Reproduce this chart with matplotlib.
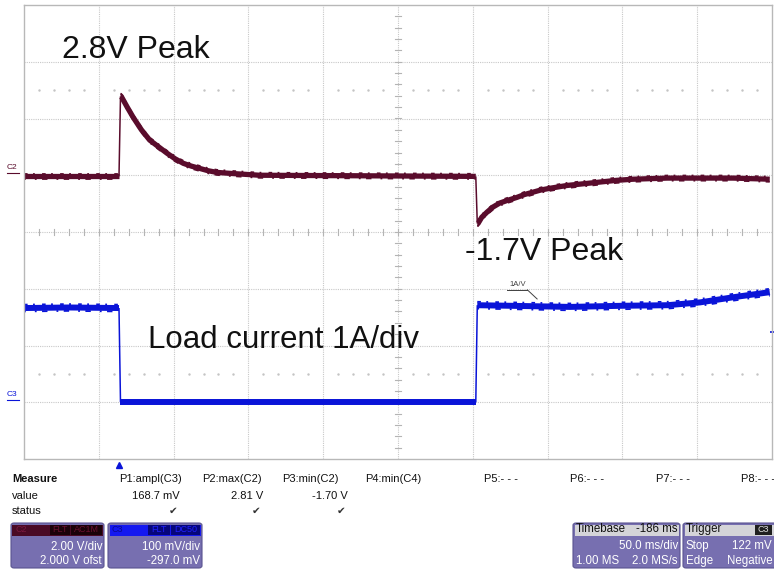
import numpy as np
import matplotlib
matplotlib.use("Agg")
import matplotlib.pyplot as plt
from matplotlib.patches import FancyBboxPatch, Rectangle

plt.rcParams["font.family"] = ["Liberation Sans", "DejaVu Sans"]

# ── Data (divisions; time 50 ms/div) ─────────────────────────
# C2 output voltage, div relative to C2 ground (2 V/div)
red_t = [0.00, 1.27, 1.29, 1.30, 1.38, 1.46, 1.57, 1.68, 1.80, 1.91, 2.02, 2.13,
         2.24, 2.35, 2.46, 2.58, 2.79, 3.15,
         6.04, 6.06, 6.07, 6.12, 6.19, 6.27, 6.36, 6.47, 6.59, 6.69, 6.80, 6.91,
         7.03, 7.26, 7.48, 7.70, 7.92, 8.14, 8.60, 9.48, 9.97]
red_v = [-0.02, -0.02, 1.39, 1.39, 1.20, 1.02, 0.80, 0.62, 0.50, 0.39, 0.29, 0.21,
         0.16, 0.12, 0.08, 0.05, 0.03, 0.00,
         -0.02, -0.85, -0.85, -0.74, -0.65, -0.56, -0.49, -0.44, -0.39, -0.34, -0.30, -0.26,
         -0.23, -0.18, -0.15, -0.12, -0.09, -0.07, -0.05, -0.05, -0.07]
# C3 load current, div relative to C3 ground
blue_t = [0.00, 0.60, 1.27, 1.29, 6.04, 6.06, 6.50, 7.30, 8.00, 8.60,
          9.04, 9.48, 9.97]
blue_v = [1.66, 1.67, 1.66, 0.00, 0.00, 1.71, 1.70, 1.68, 1.70, 1.71,
          1.76, 1.85, 1.94]

C2_ZERO = 5.0
C3_ZERO = 1.0

labels_meas = ["P1:ampl(C3)", "P2:max(C2)", "P3:min(C2)", "P4:min(C4)",
               "P5:- - -", "P6:- - -", "P7:- - -", "P8:- - -"]
values_meas = ["168.7 mV", "2.81 V", "-1.70 V"]

RED = "#5a0c2c"
BLUE = "#0a14d8"
W, H = 774, 570


def fx(x):
    return x / W


def fy(y):
    return 1 - y / H


def draw_trace(ax, t, v, zero, color, lw_thick, fuzz, lw_thin=1.1):
    t = np.asarray(t)
    v0 = np.asarray(v)
    v = v0 + zero
    slope = np.abs(np.diff(v) / np.diff(t))
    steep = slope > 20
    # thin vertical edges
    for i in np.where(steep)[0]:
        ax.plot(t[i:i + 2], v[i:i + 2], color=color, lw=lw_thin, solid_capstyle="butt")
    # thick flat/curved parts, with a ragged edge to mimic scope noise
    start = 0
    for i in range(len(steep) + 1):
        if i == len(steep) or steep[i]:
            if i > start:
                tt, vv = t[start:i + 1], v[start:i + 1]
                ax.plot(tt, vv, color=color, lw=lw_thick,
                        solid_joinstyle="round", solid_capstyle="butt")
                if np.any(v0[start:i + 1] != 0):   # no noise when load is off
                    ax.plot(tt, vv + fuzz, color=color, lw=1.3, ls=(0, (2, 3, 1, 4)))
                    ax.plot(tt, vv - fuzz, color=color, lw=1.3, ls=(2, (3, 5, 1, 3)))
            start = i + 1


fig = plt.figure(figsize=(W / 100, H / 100), dpi=100)
fig.patch.set_facecolor("white")
ax = fig.add_axes([fx(24), 1 - 459 / H, 748 / W, 454 / H])
ax.set_xlim(0, 10)
ax.set_ylim(0, 8)
ax.set_xticks([])
ax.set_yticks([])
for s in ax.spines.values():
    s.set_color("#b8b8b8")
    s.set_linewidth(1.0)

# grid
for gx in range(1, 10):
    ax.axvline(gx, color="#c8c8c8", lw=0.8, ls=(0, (1, 1)), zorder=0)
for gy in range(1, 8):
    ax.axhline(gy, color="#c8c8c8", lw=0.8, ls=(0, (1, 1)), zorder=0)

# centre cross ticks
ticks = np.arange(0.2, 10, 0.2)
for tx in ticks:
    ax.plot([tx, tx], [3.94, 4.06], color="#b4b4b4", lw=0.8, zorder=0)
for ty in np.arange(0.2, 8, 0.2):
    ax.plot([4.955, 5.045], [ty, ty], color="#b4b4b4", lw=0.8, zorder=0)

# dotted reference rows
dots_x = [d for d in ticks if abs(d - round(d)) > 0.05]
for ry in (6.5, 1.5):
    ax.plot(dots_x, [ry] * len(dots_x), ls="none", marker=".", ms=1.5, color="#c4c4c4", zorder=0)

draw_trace(ax, red_t, red_v, C2_ZERO, RED, 3.8, 0.045)
draw_trace(ax, blue_t, blue_v, C3_ZERO, BLUE, 4.3, 0.06)

# channel markers
ax.text(-0.16, C2_ZERO + 0.07, "C2", color=RED, fontsize=6, ha="center", va="bottom",
        clip_on=False)
ax.plot([-0.23, -0.07], [C2_ZERO + 0.04] * 2, color=RED, lw=0.8, clip_on=False)
ax.text(-0.16, C3_ZERO + 0.07, "C3", color=BLUE, fontsize=6, ha="center", va="bottom",
        clip_on=False)
ax.plot([-0.23, -0.07], [C3_ZERO + 0.04] * 2, color=BLUE, lw=0.8, clip_on=False)

# trigger position / level markers
ax.plot([1.27], [-0.11], marker="^", ms=5, color=BLUE, clip_on=False)
ax.plot([10.02], [2.24], marker="_", ms=4, mew=1.2, color=BLUE, clip_on=False)

# probe label
ax.text(6.6, 3.02, "1A/V", fontsize=5.5, color="#404040", ha="center", va="bottom")
ax.plot([6.46, 6.73], [2.98, 2.98], color="#404040", lw=0.7)
ax.plot([6.73, 6.86], [2.98, 2.82], color="#404040", lw=0.7)

# annotations
fig.text(fx(62), fy(50), "2.8V Peak", fontsize=23, va="center", ha="left", color="#111111")
fig.text(fx(465), fy(252), "-1.7V Peak", fontsize=23, va="center", ha="left", color="#111111")
fig.text(fx(148), fy(340), "Load current 1A/div", fontsize=22.5, va="center", ha="left",
         color="#111111")

# ── Measure panel ────────────────────────────────────────────
fig.text(fx(12), fy(479), "Measure", fontsize=8, fontweight="bold", va="center", color="#111")
fig.text(fx(12), fy(496), "value", fontsize=8, va="center", color="#111")
fig.text(fx(12), fy(511), "status", fontsize=8, va="center", color="#111")
col_x = [119, 202, 282, 365, 484, 570, 656, 741]
val_right = [180, 263, 348]
for lbl, cx in zip(labels_meas, col_x):
    fig.text(fx(cx), fy(479), lbl, fontsize=8, va="center", color="#111")
for val, rx in zip(values_meas, val_right):
    fig.text(fx(rx), fy(496), val, fontsize=8, va="center", ha="right", color="#111")
    fig.text(fx(rx - 7), fy(511), "\u2714", fontsize=7.5, va="center", ha="center",
             color="#333", family="DejaVu Sans")

BOX = "#776fb0"


def box(x0, x1, y0=523, y1=568, head="#4a0a25"):
    p = FancyBboxPatch((fx(x0), fy(y1)), fx(x1 - x0), (y1 - y0) / H,
                       boxstyle="round,pad=0,rounding_size=0.004",
                       transform=fig.transFigure, facecolor=BOX, edgecolor="#5a5490", lw=0.8)
    fig.add_artist(p)
    hd = Rectangle((fx(x0 + 1.5), fy(y0 + 13)), fx(x1 - x0 - 3), 11.5 / H,
                   transform=fig.transFigure, facecolor=head, edgecolor="none")
    fig.add_artist(hd)


def chip(x0, x1, y0, y1, color, text, tcolor):
    r = Rectangle((fx(x0), fy(y1)), fx(x1 - x0), (y1 - y0) / H,
                  transform=fig.transFigure, facecolor=color, edgecolor="none")
    fig.add_artist(r)
    fig.text(fx((x0 + x1) / 2), fy((y0 + y1) / 2), text, fontsize=6.5, color=tcolor,
             ha="center", va="center")


box(11, 104, head="#4a0a25")
box(108, 202, head="#1418f0")
box(573, 680, head="#d4d4d8")
box(683, 790, head="#d4d4d8")

fig.text(fx(15), fy(529.5), "C2", fontsize=6.5, color="#7a1a40", va="center")
chip(50, 70, 524.5, 534.5, "#1a0209", "FLT", "#6a1030")
chip(71, 102, 524.5, 534.5, "#1a0209", "AC1M", "#6a1030")
fig.text(fx(112), fy(529.5), "C3", fontsize=6.5, color="#0a0a90", va="center")
chip(148, 170, 524.5, 534.5, "#06067a", "FLT", "#2020ff")
chip(171, 200, 524.5, 534.5, "#06067a", "DC50", "#2020ff")

fig.text(fx(102), fy(547), "2.00 V/div", fontsize=8.3, color="white", ha="right", va="center")
fig.text(fx(102), fy(561), "2.000 V ofst", fontsize=8.3, color="white", ha="right", va="center")
fig.text(fx(200), fy(547), "100 mV/div", fontsize=8.3, color="white", ha="right", va="center")
fig.text(fx(200), fy(561), "-297.0 mV", fontsize=8.3, color="white", ha="right", va="center")

fig.text(fx(576), fy(529), "Timebase", fontsize=8.3, color="#111", va="center")
fig.text(fx(678), fy(529), "-186 ms", fontsize=8.3, color="#111", ha="right", va="center")
fig.text(fx(678), fy(546), "50.0 ms/div", fontsize=8.3, color="white", ha="right", va="center")
fig.text(fx(576), fy(561), "1.00 MS", fontsize=8.3, color="white", va="center")
fig.text(fx(678), fy(561), "2.0 MS/s", fontsize=8.3, color="white", ha="right", va="center")

fig.text(fx(686), fy(529), "Trigger", fontsize=8.3, color="#111", va="center")
chip(755, 772, 524.5, 534.5, "#202020", "C3", "#e0e0e0")
fig.text(fx(686), fy(546), "Stop", fontsize=8.3, color="white", va="center")
fig.text(fx(772), fy(546), "122 mV", fontsize=8.3, color="white", ha="right", va="center")
fig.text(fx(686), fy(561), "Edge", fontsize=8.3, color="white", va="center")
fig.text(fx(773), fy(561), "Negative", fontsize=8.3, color="white", ha="right", va="center")

fig.savefig("out.png", dpi=100)
